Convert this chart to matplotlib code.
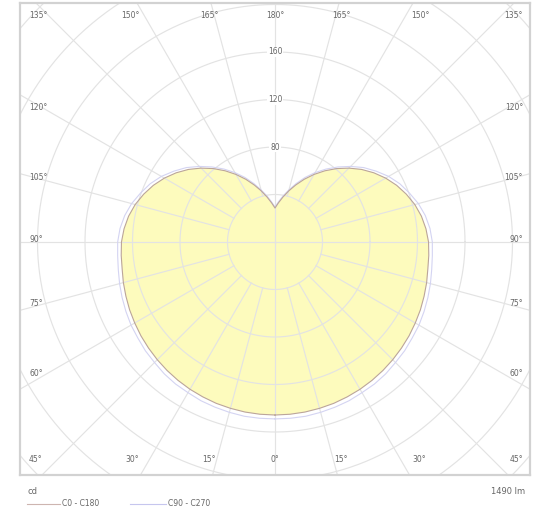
import numpy as np
import matplotlib.pyplot as plt

# luminous intensity (cd) vs gamma angle
gamma = np.arange(0, 181, 5)
c0_c180 = [145.7, 145.6, 145.4, 145.0, 144.6, 143.9, 143.2, 142.3, 141.3, 140.2,
           139.0, 137.8, 136.4, 135.1, 133.6, 132.2, 130.7, 130.0, 129.3, 127.6,
           125.2, 121.9, 117.7, 113.0, 107.6, 101.6, 95.1, 88.0, 80.7, 73.2,
           65.7, 58.3, 51.1, 44.5, 38.4, 33.1, 28.6]
c90_c270 = [149, 149, 149, 148.5, 148, 147.5, 146.5, 146, 145, 143.5,
            142.5, 141, 140, 138.5, 137, 135.5, 134, 133, 132.5, 131,
            128.5, 125, 120.5, 116, 110.5, 104, 97.5, 90, 82.5, 75,
            67.5, 60, 52.5, 45.5, 39.5, 34, 29.5]

rings = [40, 80, 120, 160, 200, 240, 280]
ring_labels = [80, 120, 160]
spokes = np.arange(0, 360, 15)

bottom_labels = ["45°", "30°", "15°", "0°", "15°", "30°", "45°"]
top_labels = ["135°", "150°", "165°", "180°", "165°", "150°", "135°"]
side_labels = ["120°", "105°", "90°", "75°", "60°"]
lumens = "1490 lm"

# pixel geometry of the frame
W, H = 536, 508
cx, cy, scale = 275, 242, 47.5 / 40
fl, fr, ft, fb = 20, 530, 3, 475

def px(x, y):
    return (x - cx) / scale, (cy - y) / scale

fig = plt.figure(figsize=(W / 100, H / 100), dpi=100)
ax = fig.add_axes([fl / W, 1 - fb / H, (fr - fl) / W, (fb - ft) / H])
x0, y0 = px(fl, fb)
x1, y1 = px(fr, ft)
ax.set_xlim(x0, x1)
ax.set_ylim(y0, y1)
ax.set_xticks([])
ax.set_yticks([])
for s in ax.spines.values():
    s.set_color('#d2d2d2')
    s.set_linewidth(1.6)

grid = '#e3e3e3'
t = np.linspace(0, 2 * np.pi, 400)
for r in rings:
    ax.plot(r * np.cos(t), r * np.sin(t), color=grid, lw=0.85, zorder=2)
for a in spokes:
    th = np.radians(a)
    start = 0 if a % 90 == 0 else 40
    ax.plot([start * np.sin(th), 400 * np.sin(th)],
            [-start * np.cos(th), -400 * np.cos(th)], color=grid, lw=0.85, zorder=2)

# curves: mirror gamma to both sides
g = np.radians(np.concatenate([gamma, 360 - gamma[::-1]]))
r0 = np.concatenate([c0_c180, c0_c180[::-1]])
r90 = np.concatenate([c90_c270, c90_c270[::-1]])
xs0, ys0 = r0 * np.sin(g), -r0 * np.cos(g)
xs9, ys9 = r90 * np.sin(g), -r90 * np.cos(g)
ax.fill(xs0, ys0, color='#fdfbbd', zorder=1, lw=0)
ax.plot(xs9, ys9, color='#d4d4f2', lw=0.8, zorder=3)
ax.plot(xs0, ys0, color='#bba59a', lw=0.8, zorder=4)

tc = '#666666'
fs = 5.5
for r in ring_labels:
    ax.text(0, r, str(r), ha='center', va='center', fontsize=fs, color=tc,
            bbox=dict(fc='white', ec='none', pad=0.6), zorder=5)

bx = [29, 132, 209, 275, 341, 419, 523]
for i, (lab, x) in enumerate(zip(bottom_labels, bx)):
    ha = 'left' if i == 0 else ('right' if i == len(bx) - 1 else 'center')
    ax.text(*px(x, 460), lab, ha=ha, va='center', fontsize=fs, color=tc, zorder=5)
tx = [29, 130, 209, 275, 341, 420, 523]
for i, (lab, x) in enumerate(zip(top_labels, tx)):
    ha = 'left' if i == 0 else ('right' if i == len(tx) - 1 else 'center')
    ax.text(*px(x, 15), lab, ha=ha, va='center', fontsize=fs, color=tc, zorder=5)
sy = [108, 177, 240, 303, 374]
for lab, y in zip(side_labels, sy):
    ax.text(*px(29, y), lab, ha='left', va='center', fontsize=fs, color=tc, zorder=5)
    ax.text(*px(523, y), lab, ha='right', va='center', fontsize=fs, color=tc, zorder=5)

# footer
fig.text(28 / W, 1 - 491 / H, "cd", fontsize=6, color=tc, va='center')
fig.text(525 / W, 1 - 491 / H, lumens, fontsize=6, color=tc, va='center', ha='right')
fig.add_artist(plt.Line2D([27 / W, 60 / W], [1 - 503.5 / H] * 2, color='#cdb5b0', lw=0.8))
fig.text(62 / W, 1 - 503.5 / H, "C0 - C180", fontsize=5.5, color=tc, va='center')
fig.add_artist(plt.Line2D([130 / W, 166 / W], [1 - 503.5 / H] * 2, color='#c6c6ee', lw=0.8))
fig.text(168 / W, 1 - 503.5 / H, "C90 - C270", fontsize=5.5, color=tc, va='center')

fig.savefig('out.png', dpi=100)
